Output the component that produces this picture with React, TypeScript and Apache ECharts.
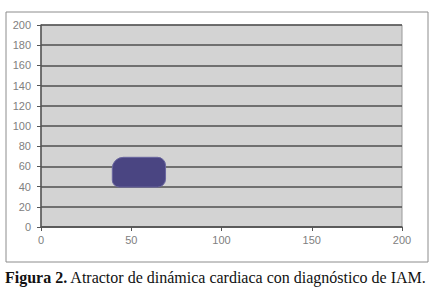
import React, { useEffect, useRef } from "react";
import * as echarts from "echarts";

const xTicks = [0, 50, 100, 150, 200];
const yTicks = [0, 20, 40, 60, 80, 100, 120, 140, 160, 180, 200];
// attractor region: [xMin, xMax, yMin, yMax]
const attractorRegion = [[39.5, 69, 39.5, 69]];
const captionBold = "Figura 2.";
const captionText = " Atractor de dinámica cardiaca con diagnóstico de IAM.";

export default function App() {
  const ref = useRef<HTMLDivElement>(null);
  useEffect(() => {
    const chart = echarts.init(ref.current!, null, { renderer: "svg" });
    chart.setOption({
      animation: false,
      backgroundColor: "#ffffff",
      grid: {
        left: 41,
        top: 25,
        width: 361,
        height: 202,
        show: true,
        backgroundColor: "#d3d3d3",
        borderColor: "#9a9a9a",
        borderWidth: 1,
      },
      xAxis: {
        type: "value",
        min: xTicks[0],
        max: xTicks[xTicks.length - 1],
        interval: 50,
        axisLine: { show: true, lineStyle: { color: "#555", width: 1.5 } },
        axisTick: { show: true, inside: false, length: 4, lineStyle: { color: "#555" } },
        splitLine: { show: false },
        axisLabel: { color: "#808080", fontSize: 11, fontFamily: "Arial, Liberation Sans", margin: 7 },
      },
      yAxis: {
        type: "value",
        min: yTicks[0],
        max: yTicks[yTicks.length - 1],
        interval: 20,
        axisLine: { show: true, lineStyle: { color: "#555", width: 1.5 } },
        axisTick: { show: true, inside: false, length: 4, lineStyle: { color: "#555" } },
        splitLine: { show: true, lineStyle: { color: "#4f4f4f", width: 1.5 } },
        axisLabel: { color: "#808080", fontSize: 11, fontFamily: "Arial, Liberation Sans", margin: 10 },
      },
      series: [
        {
          type: "custom",
          data: attractorRegion,
          renderItem: (params: any, api: any) => {
            const p1 = api.coord([api.value(0), api.value(3)]);
            const p2 = api.coord([api.value(1), api.value(2)]);
            return {
              type: "rect",
              shape: {
                x: p1[0],
                y: p1[1],
                width: p2[0] - p1[0],
                height: p2[1] - p1[1],
                r: [11, 8, 8, 7],
              },
              style: { fill: "#4a4582", stroke: "#6a66a0", lineWidth: 1 },
            };
          },
        },
      ],
      graphic: [
        {
          type: "rect",
          shape: { x: 6, y: 12, width: 422, height: 250 },
          style: { fill: "none", stroke: "#8c8c8c", lineWidth: 1 },
          silent: true,
        },
        {
          type: "text",
          left: 5,
          top: 269,
          style: {
            text: "{b|" + captionBold + "}{r|" + captionText + "}",
            rich: {
              b: { fontFamily: "Liberation Serif, Times New Roman, serif", fontSize: 16, fontWeight: "bold", fill: "#111" },
              r: { fontFamily: "Liberation Serif, Times New Roman, serif", fontSize: 16, fill: "#111" },
            },
          },
        },
      ],
    });
    return () => chart.dispose();
  }, []);
  return (
    <div
      ref={ref}
      style={{ position: "fixed", left: 0, top: 0, width: 439, height: 295 }}
    />
  );
}
